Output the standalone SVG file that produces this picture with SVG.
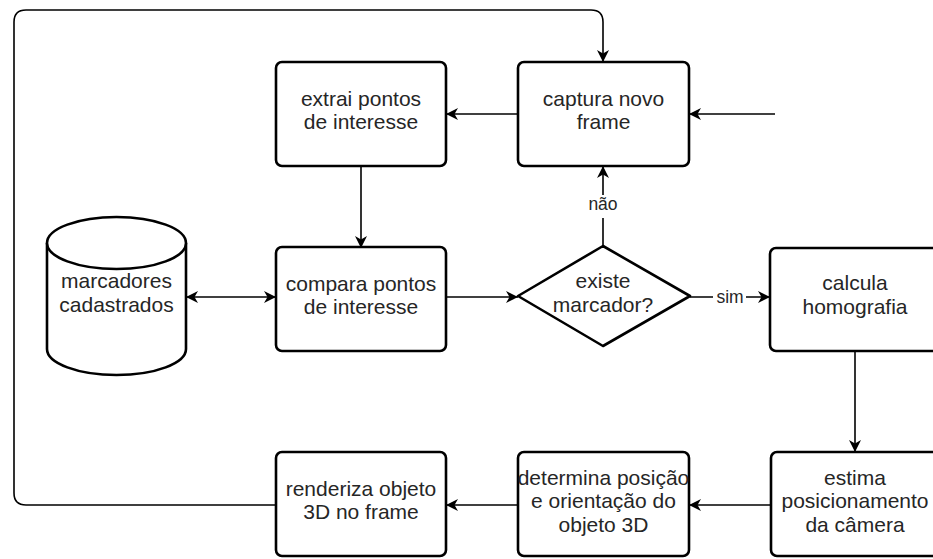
<svg xmlns="http://www.w3.org/2000/svg" width="933" height="559" viewBox="0 0 933 559">
<defs>
<marker id="arr" markerUnits="userSpaceOnUse" markerWidth="14" markerHeight="14" refX="12" refY="6" orient="auto-start-reverse" viewBox="0 0 14 12">
<path d="M0,0 L12,6 L0,12 L3.5,6 Z" fill="#000"/>
</marker>
</defs>
<style>
.box{fill:#fff;stroke:#000;stroke-width:2.6}
.t{font-family:"Liberation Sans",Arial,sans-serif;font-size:21px;fill:#262626;text-anchor:middle}
.lbl{font-family:"Liberation Sans",Arial,sans-serif;font-size:17.5px;fill:#262626;text-anchor:middle}
.c{fill:none;stroke:#000;stroke-width:1.6}
</style>
<rect width="933" height="559" fill="#fff"/>
<g id="connectors">
<path class="c" d="M276,505 L26,505 Q14,505 14,493 L14,22 Q14,10 26,10 L591,10 Q603,10 603,22 L603,62" marker-end="url(#arr)"/>
<path class="c" d="M775,114 L689,114" marker-end="url(#arr)"/>
<path class="c" d="M518,114 L446,114" marker-end="url(#arr)"/>
<path class="c" d="M361,166 L361,248" marker-end="url(#arr)"/>
<path class="c" d="M186,297 L276,297" marker-start="url(#arr)" marker-end="url(#arr)"/>
<path class="c" d="M446,297 L518,297" marker-end="url(#arr)"/>
<path class="c" d="M603,246 L603,218 M603,195 L603,166" marker-end="url(#arr)"/>
<path class="c" d="M690,297 L713,297 M746,297 L770,297" marker-end="url(#arr)"/>
<path class="c" d="M855,351 L855,452" marker-end="url(#arr)"/>
<path class="c" d="M771,505 L689,505" marker-end="url(#arr)"/>
<path class="c" d="M518,505 L446,505" marker-end="url(#arr)"/>
<text class="lbl" x="603" y="210">não</text>
<text class="lbl" x="730" y="303">sim</text>
</g>
<g id="captura">
<rect class="box" x="518" y="62" width="171" height="104" rx="6"/>
<text class="t" x="603.5" y="106">captura novo</text>
<text class="t" x="603.5" y="129">frame</text>
</g>
<g id="extrai">
<rect class="box" x="276" y="62" width="170" height="104" rx="6"/>
<text class="t" x="361" y="106">extrai pontos</text>
<text class="t" x="361" y="129">de interesse</text>
</g>
<g id="marcadores">
<path class="box" d="M47,243 A69.5,26 0 0 1 186,243 L186,349 A69.5,26 0 0 1 47,349 Z"/>
<path class="box" d="M47,243 A69.5,26 0 0 0 186,243" fill="none"/>
<text class="t" x="116.5" y="288">marcadores</text>
<text class="t" x="116.5" y="312">cadastrados</text>
</g>
<g id="compara">
<rect class="box" x="276" y="247" width="170" height="104" rx="6"/>
<text class="t" x="361" y="291">compara pontos</text>
<text class="t" x="361" y="314">de interesse</text>
</g>
<g id="existe">
<path class="box" d="M603,246 L690,296 L603,346 L518,296 Z" stroke-linejoin="round"/>
<text class="t" x="603" y="288">existe</text>
<text class="t" x="603" y="312">marcador?</text>
</g>
<g id="calcula">
<rect class="box" x="770" y="248" width="175" height="103" rx="6"/>
<text class="t" x="855" y="290">calcula</text>
<text class="t" x="855" y="314">homografia</text>
</g>
<g id="estima">
<rect class="box" x="771" y="452" width="175" height="104" rx="6"/>
<text class="t" x="855" y="485">estima</text>
<text class="t" x="855" y="508">posicionamento</text>
<text class="t" x="855" y="532">da câmera</text>
</g>
<g id="determina">
<rect class="box" x="518" y="452" width="171" height="104" rx="6"/>
<text class="t" x="603.5" y="485">determina posição</text>
<text class="t" x="603.5" y="508">e orientação do</text>
<text class="t" x="603.5" y="532">objeto 3D</text>
</g>
<g id="renderiza">
<rect class="box" x="276" y="452" width="170" height="104" rx="6"/>
<text class="t" x="361" y="496">renderiza objeto</text>
<text class="t" x="361" y="519">3D no frame</text>
</g>
</svg>
